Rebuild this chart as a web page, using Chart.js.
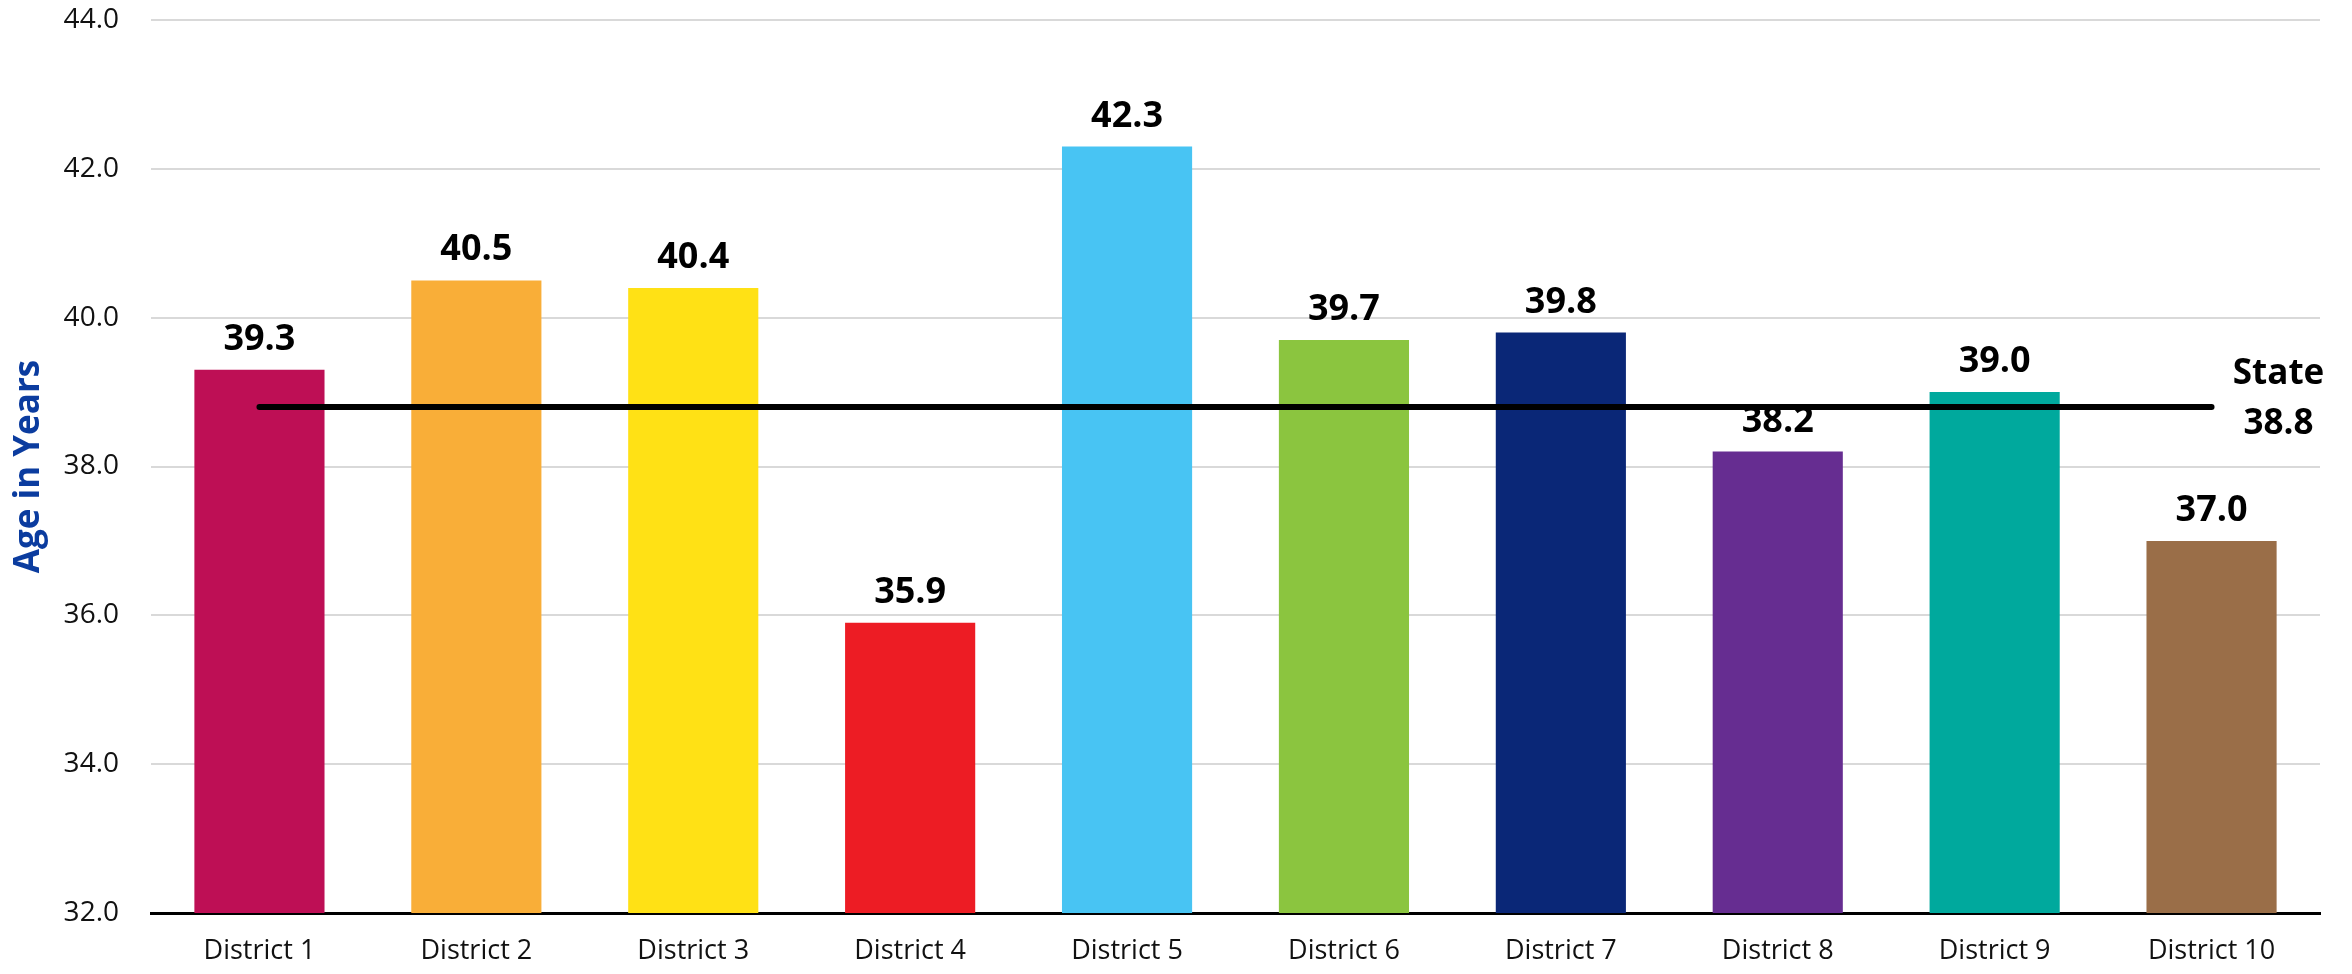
<!DOCTYPE html>
<html>
<head>
<meta charset="utf-8">
<script src="https://cdn.jsdelivr.net/npm/chart.js@4"></script>
<style>
  html, body { margin: 0; padding: 0; background: #fff; }
  #wrap { width: 2352px; height: 974px; }
</style>
</head>
<body>
<div id="wrap"><canvas id="chart"></canvas></div>
<script>
const districts = ['District 1', 'District 2', 'District 3', 'District 4', 'District 5',
                   'District 6', 'District 7', 'District 8', 'District 9', 'District 10'];
const medianAge = [39.3, 40.5, 40.4, 35.9, 42.3, 39.7, 39.8, 38.2, 39.0, 37.0];
const stateAge = 38.8;
const barColors = ['#BE0F55', '#F9AE38', '#FFE115', '#ED1C24', '#48C4F3',
                   '#8BC53F', '#0A2777', '#662D91', '#00A99D', '#9A6E48'];
const yTicks = [32, 34, 36, 38, 40, 42, 44];

const FONT = '"Segoe UI", "Open Sans", sans-serif';

// value labels above the bars + state label at the end of the line
const labelsPlugin = {
    id: 'labels',
    afterDatasetsDraw(chart) {
        const ctx = chart.ctx;
        ctx.save();
        ctx.fillStyle = '#000';
        ctx.font = 'bold 36px ' + FONT;
        ctx.textAlign = 'center';
        ctx.textBaseline = 'alphabetic';
        chart.getDatasetMeta(0).data.forEach((bar, i) => {
            ctx.fillText(medianAge[i].toFixed(1), bar.x, bar.y - 20);
        });
        const line = chart.getDatasetMeta(1).data;
        const last = line[line.length - 1];
        ctx.textBaseline = 'middle';
        ctx.font = 'bold 35px ' + FONT;
        ctx.fillText('State', last.x + 67, last.y - 33);
        ctx.fillText(stateAge.toFixed(1), last.x + 67, last.y + 17);
        ctx.restore();
    }
};

new Chart(document.getElementById('chart'), {
    data: {
        labels: districts,
        datasets: [
            {
                type: 'bar',
                data: medianAge,
                backgroundColor: barColors,
                barPercentage: 0.6,
                categoryPercentage: 1,
                order: 2
            },
            {
                type: 'line',
                data: districts.map(() => stateAge),
                borderColor: '#000',
                borderWidth: 6,
                borderCapStyle: 'round',
                pointRadius: 0,
                order: 1
            }
        ]
    },
    options: {
        responsive: true,
        maintainAspectRatio: false,
        animation: false,
        layout: { padding: { left: 0, right: 32, top: 20, bottom: 0 } },
        plugins: { legend: { display: false }, tooltip: { enabled: false } },
        scales: {
            x: {
                grid: { display: false, drawTicks: false },
                border: { display: true, color: '#000', width: 3 },
                ticks: { color: '#111', padding: 22, font: { family: FONT, size: 27 } },
                afterFit: (s) => { s.height = 61; }
            },
            y: {
                min: 32,
                max: 44,
                afterBuildTicks: (s) => { s.ticks = yTicks.map(v => ({ value: v })); },
                grid: { color: '#D9D9D9', lineWidth: 2, drawTicks: false },
                border: { display: false },
                ticks: {
                    color: '#111', padding: 32,
                    font: { family: FONT, size: 28 },
                    callback: (v) => Number(v).toFixed(1)
                },
                title: {
                    display: true,
                    text: 'Age in Years',
                    color: '#0B3C9F',
                    font: { family: FONT, size: 35, weight: 'bold' },
                    padding: { top: 8, bottom: 0 }
                },
                afterFit: (s) => {
                    s.width = 151;
                    s.paddingTop = 0;
                    s.paddingBottom = 0;
                }
            }
        }
    },
    plugins: [labelsPlugin]
});
</script>
</body>
</html>
